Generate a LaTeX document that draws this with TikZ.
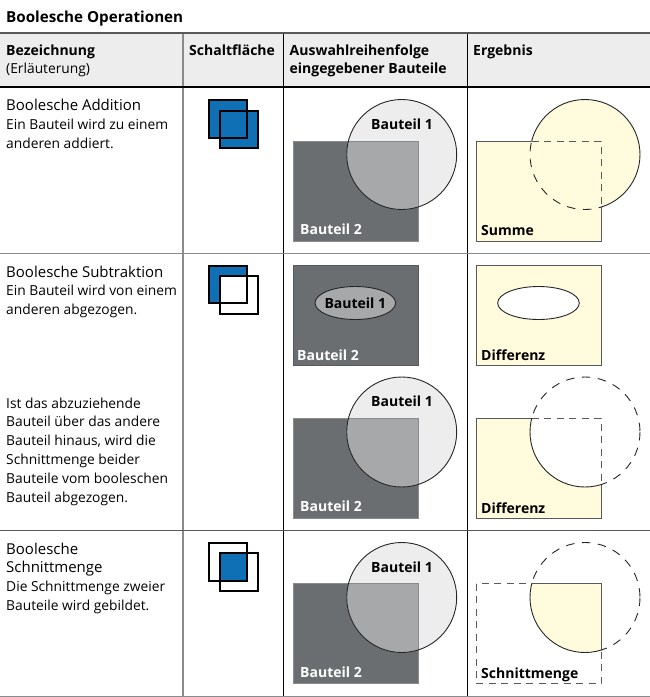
\documentclass[tikz,border=0pt]{standalone}
\usepackage{fontspec}
\setmainfont{Open Sans}
\definecolor{hdr}{HTML}{ECEDEC}
\definecolor{dark}{HTML}{6B6E70}
\definecolor{mid}{HTML}{A7A8AA}
\definecolor{blau}{HTML}{1070B5}
\definecolor{gelb}{HTML}{FFFBDC}
\definecolor{edge}{HTML}{58595B}
\definecolor{rule}{HTML}{8A8B8D}
\newcommand{\txtsize}{\fontsize{13.8}{18.8}\selectfont}
\newcommand{\boldsize}{\fontsize{14}{19.6}\selectfont\bfseries}
\newcommand{\namesize}{\fontsize{15}{18.8}\selectfont}
\newcommand{\cellbox}[1]{\parbox[t]{176pt}{\raggedright\txtsize #1}}
\tikzset{
  x=1pt,y=-1pt,
  txt/.style={anchor=base west,inner sep=0pt,font=\txtsize,text=black},
  hd/.style={txt,font=\boldsize},
  lab/.style={txt,font=\boldsize},
  labw/.style={lab,text=white},
  rl/.style={draw=edge,line width=.8pt},
  cl/.style={draw=black!85,line width=.9pt},
  rdash/.style={draw=edge,line width=1pt,dash pattern=on 7pt off 5.5pt},
  cdash/.style={draw=black!85,line width=.9pt,dash pattern=on 8.5pt off 7.5pt},
  icon/.style={draw=black,line width=1.7pt},
  vg/.style={draw=rule,line width=1.5pt},
  vb/.style={draw=black,line width=1pt},
  hg/.style={draw=rule,line width=1pt},
}
% input cell
\newcommand{\inputcell}[2]{% rect top, circle cy
  \path[fill=dark] (293,#1) rectangle ++(125,100);
  \path[fill=hdr] (401.7,#2) circle[radius=55];
  \begin{scope}\clip (293,#1) rectangle ++(125,100);
    \path[fill=mid] (401.7,#2) circle[radius=55];
  \end{scope}
  \draw[rl,draw=edge!70] (293,#1) rectangle ++(125,100);
  \draw[cl] (401.7,#2) circle[radius=55];
}
\newcommand{\inclip}[1]{\clip (476,#1) rectangle ++(125,100);}
\newcommand{\circlip}[1]{\clip (585,#1) circle[radius=55];}
\newcommand{\outrect}[1]{\clip (-100,-100) rectangle (800,800) (476,#1) rectangle ++(125,100);}
\newcommand{\outcirc}[1]{\clip (-100,-100) rectangle (800,800) (585,#1) circle[radius=55];}
% #1 rect top #2 circ y #3 rect-outside-circle style #4 rect-inside-circle style #5 circ-outside-rect style #6 circ-inside-rect style
\newcommand{\outlines}[6]{%
  \begin{scope}[even odd rule]\outcirc{#2}\draw[#3] (476,#1) rectangle ++(125,100);\end{scope}
  \begin{scope}\circlip{#2}\draw[#4] (476,#1) rectangle ++(125,100);\end{scope}
  \begin{scope}[even odd rule]\outrect{#1}\draw[#5] (585,#2) circle[radius=55];\end{scope}
  \begin{scope}\inclip{#1}\draw[#6] (585,#2) circle[radius=55];\end{scope}
}
\begin{document}
\begin{tikzpicture}
\useasboundingbox (0,0) rectangle (650,697);
\path[fill=white] (0,0) rectangle (650,697);
\path[fill=hdr] (0,33) rectangle (650,87);
% table rules
\draw[vg] (183,33) -- (183,696);
\draw[vb] (283,33) -- (283,696);
\draw[vb] (467,33) -- (467,696);
\draw[draw=edge,line width=1.2pt] (0,33) -- (650,33);
\draw[draw=black,line width=2pt] (0,87) -- (650,87);
\draw[hg] (0,253) -- (650,253);
\draw[draw=edge,line width=1pt] (0,530) -- (650,530);
\draw[hg] (0,696) -- (650,696);
% header
\node[hd,font=\fontsize{15.2}{19}\selectfont\bfseries] (title) at (6,22) {Boolesche Operationen};
\node[txt] (h1) at (6,55) {\cellbox{{\boldsize Bezeichnung}\\(Erläuterung)}};
\node[hd] (h2) at (189,55) {Schaltfläche};
\node[txt] (h3) at (289.5,55) {\cellbox{{\boldsize Auswahlreihenfolge}\\{\boldsize eingegebener Bauteile}}};
\node[hd] (h4) at (473,55) {Ergebnis};
% left column
\node[txt] (t1) at (6,110.5) {\cellbox{{\namesize Boolesche Addition}\\Ein Bauteil wird zu einem\\anderen addiert.}};
\node[txt] (t2) at (6,277) {\cellbox{{\namesize Boolesche Subtraktion}\\Ein Bauteil wird von einem\\anderen abgezogen.}};
\node[txt] (t3) at (6,408) {\cellbox{Ist das abzuziehende\\Bauteil über das andere\\Bauteil hinaus, wird die\\Schnittmenge beider\\Bauteile vom booleschen\\Bauteil abgezogen.}};
\node[txt] (t4) at (6,554) {\cellbox{{\namesize Boolesche\\Schnittmenge}\\Die Schnittmenge zweier\\Bauteile wird gebildet.}};
% icons
\path[fill=blau] (209,100) rectangle (247,138);
\path[fill=blau] (220,111) rectangle (258,148);
\draw[icon] (209,100) rectangle (247,138);
\draw[icon] (220,111) rectangle (258,148);
\path[fill=blau] (209,266) rectangle (247,303);
\path[fill=white] (220,276) rectangle (258,314);
\draw[icon] (209,266) rectangle (247,303);
\draw[icon] (220,276) rectangle (258,314);
\path[fill=blau] (220,553) rectangle (247,581);
\draw[icon] (209,543) rectangle (247,581);
\draw[icon] (220,553) rectangle (258,591);
% input column
\inputcell{141}{154.5}
\node[lab] (a1) at (371,129) {Bauteil 1};
\node[labw] (a2) at (300,234) {Bauteil 2};
\path[fill=dark] (293,265.5) rectangle ++(125,100);
\draw[rl] (293,265.5) rectangle ++(125,100);
\path[fill=mid,draw=black!85,line width=.9pt] (355.3,303) ellipse[x radius=40.3,y radius=16.5];
\node[lab,anchor=base] (b1) at (355.3,308) {Bauteil 1};
\node[labw] (b2) at (297,360) {Bauteil 2};
\inputcell{418}{432}
\node[lab] (c1) at (371,406) {Bauteil 1};
\node[labw] (c2) at (300,511) {Bauteil 2};
\inputcell{583.5}{597.5}
\node[lab] (d1) at (371,572) {Bauteil 1};
\node[labw] (d2) at (300,677) {Bauteil 2};
% result: Summe
\path[fill=gelb] (476,141) rectangle ++(125,100);
\path[fill=gelb] (585,154.5) circle[radius=55];
\outlines{141}{154.5}{rl}{rdash}{cl}{cdash}
\node[lab] (e1) at (481,235) {Summe};
% result: Differenz (ellipse)
\path[fill=gelb,draw=edge,line width=.8pt] (476,265.5) rectangle ++(125,100);
\path[fill=white,draw=black!85,line width=.9pt] (538.5,303) ellipse[x radius=40.8,y radius=16.5];
\node[lab] (e2) at (481,360) {Differenz};
% result: Differenz (circle)
\path[fill=gelb] (476,418) rectangle ++(125,100);
\begin{scope}\inclip{418}\path[fill=white] (585,432) circle[radius=55];\end{scope}
\outlines{418}{432}{rl}{rdash}{cdash}{cl}
\node[lab] (e3) at (481,513) {Differenz};
% result: Schnittmenge
\begin{scope}\inclip{583.5}\path[fill=gelb] (585,597.5) circle[radius=55];\end{scope}
\outlines{583.5}{597.5}{rdash}{rl}{cdash}{cl}
\node[lab] (e4) at (481,678) {Schnittmenge};
\end{tikzpicture}
\end{document}
